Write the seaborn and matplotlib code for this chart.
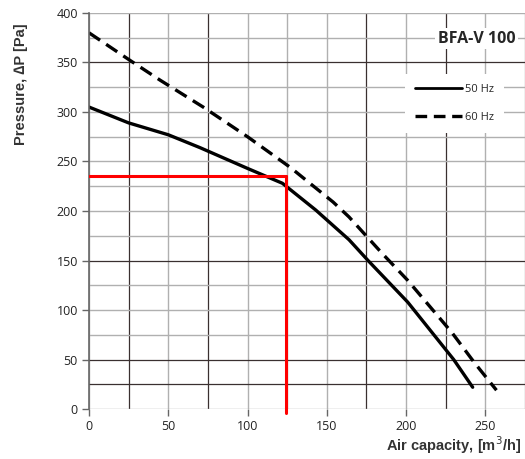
import matplotlib
matplotlib.use("Agg")
import matplotlib.pyplot as plt
import seaborn as sns
import pandas as pd
from matplotlib.lines import Line2D

# Data
hz50_x = [0, 25, 50, 70, 100, 122, 143, 164, 176, 201, 230, 242]
hz50_y = [305, 289, 277, 264, 243, 228, 201, 171, 150, 108, 50, 22]
hz60_x = [0, 26, 45, 64, 72, 100, 127, 154, 164, 185, 201, 229, 243, 257]
hz60_y = [380, 352, 332, 313, 305, 275, 244, 209, 194, 157, 130, 77, 47, 19]
op_x = 124
op_y = 235
x_ticks = [0, 50, 100, 150, 200, 250]
y_ticks = [0, 50, 100, 150, 200, 250, 300, 350, 400]

df = pd.concat([
    pd.DataFrame({"q": hz50_x, "p": hz50_y, "f": "50 Hz"}),
    pd.DataFrame({"q": hz60_x, "p": hz60_y, "f": "60 Hz"}),
])

sns.set_theme(style="white")
plt.rcParams['font.family'] = ['Liberation Sans', 'DejaVu Sans']

fig = plt.figure(figsize=(5.25, 4.59), dpi=100)
ax = fig.add_axes([0.1695, 0.1089, 0.8305, 0.8628])

# grid
for v in range(0, 276, 25):
    dark = v in (25, 75, 175, 225)
    ax.axvline(v, color="#3a3030" if dark else "#b0b0b0", lw=0.9 if dark else 1.0, zorder=0)
for v in range(0, 401, 25):
    dark = v in (25, 50, 150, 350)
    ax.axhline(v, color="#3a3030" if dark else "#b0b0b0", lw=0.9 if dark else 1.0, zorder=0)

sns.lineplot(data=df, x="q", y="p", style="f", style_order=["50 Hz", "60 Hz"],
             dashes={"50 Hz": "", "60 Hz": (4, 2.2)}, color="black", lw=2.4,
             ax=ax, legend=False, sort=False, estimator=None)

# operating point
ax.plot([0, op_x], [op_y, op_y], color="#ff0000", lw=2.2, zorder=4)
ax.plot([op_x, op_x], [op_y, -4], color="#ff0000", lw=2.2, zorder=4, clip_on=False)

ax.set_xlim(0, 275)
ax.set_ylim(0, 400)
ax.set_xticks(x_ticks)
ax.set_yticks(y_ticks)
for s in ["top", "right", "bottom"]:
    ax.spines[s].set_visible(False)
ax.spines["left"].set_color("#666666")
ax.spines["left"].set_linewidth(1.2)
ax.tick_params(axis="both", which="both", length=5, width=1, color="#666666",
               labelsize=9, labelcolor="#222222", left=True, bottom=True, pad=3)
for lab in ax.get_xticklabels() + ax.get_yticklabels():
    lab.set_family(["Open Sans", "DejaVu Sans"])

ax.set_xlabel("Air capacity, [m$^3$/h]", fontsize=10.5, fontweight="bold", color="#333333",
              ha="right")
ax.xaxis.set_label_coords(0.99, -0.065)
ax.set_ylabel("Pressure, ∆P [Pa]", fontsize=10.5, fontweight="bold", color="#333333")
ax.yaxis.set_label_coords(-0.14, 0.82)

ax.text(0.978, 0.935, "BFA-V 100", transform=ax.transAxes, ha="right", va="center",
        fontsize=11.5, fontweight="bold", family=["Open Sans", "DejaVu Sans"],
        bbox=dict(facecolor="white", edgecolor="none", pad=2), zorder=5)

handles = [Line2D([], [], color="black", lw=2, ls="-"),
           Line2D([], [], color="black", lw=2.4, ls=(0, (3.5, 2)))]
leg = ax.legend(handles, ["50 Hz", "60 Hz"], loc="upper right", bbox_to_anchor=(0.965, 0.86),
                frameon=True, fontsize=8, handlelength=4.2, handletextpad=0.3,
                labelspacing=1.5, borderpad=0.9, fancybox=False)
leg.get_frame().set_edgecolor("none")
leg.get_frame().set_facecolor("white")
leg.get_frame().set_alpha(1)
leg.set_zorder(5)
for t in leg.get_texts():
    t.set_family(["Open Sans", "DejaVu Sans"])

fig.savefig("out.png", dpi=100)
